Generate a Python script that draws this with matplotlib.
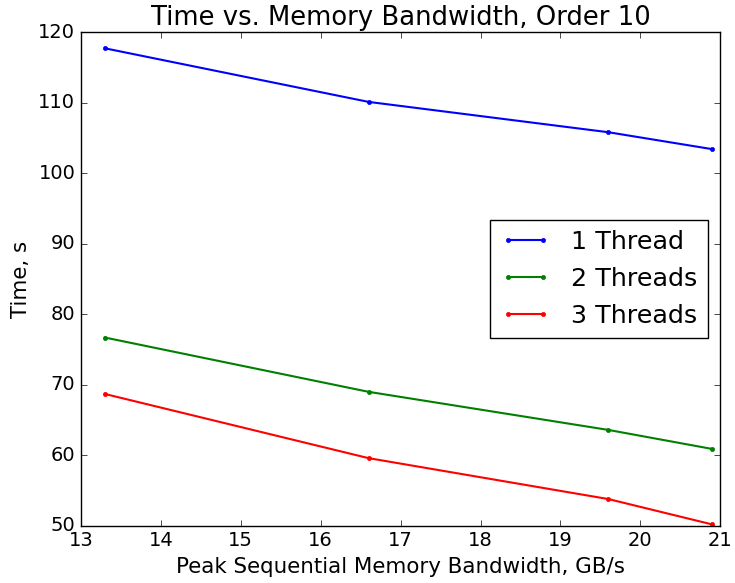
import matplotlib
matplotlib.use("Agg")
import matplotlib.pyplot as plt

plt.style.use("classic")

bandwidth = [13.3, 16.6, 19.6, 20.9]
time_1thread = [117.7, 110.1, 105.8, 103.4]
time_2threads = [76.7, 69.0, 63.6, 60.9]
time_3threads = [68.7, 59.6, 53.8, 50.2]

fig = plt.figure(figsize=(7.35, 5.83), dpi=100, facecolor="white")
ax = fig.add_subplot(111)
fig.subplots_adjust(left=0.110, right=0.980, top=0.945, bottom=0.098)

ax.plot(bandwidth, time_1thread, "b.-", label="1 Thread", linewidth=1.5)
ax.plot(bandwidth, time_2threads, "g.-", label="2 Threads", linewidth=1.5)
ax.plot(bandwidth, time_3threads, "r.-", label="3 Threads", linewidth=1.5)

ax.set_xlim(13, 21)
ax.set_ylim(50, 120)
ax.tick_params(labelsize=14)
ax.set_xlabel("Peak Sequential Memory Bandwidth, GB/s", fontsize=15.4)
ax.set_ylabel("Time, s", fontsize=15.4)
ax.set_title("Time vs. Memory Bandwidth, Order 10", fontsize=18.6)
ax.legend(loc="center right", fontsize=18.3)

fig.savefig("out.png", dpi=100, facecolor="white")
